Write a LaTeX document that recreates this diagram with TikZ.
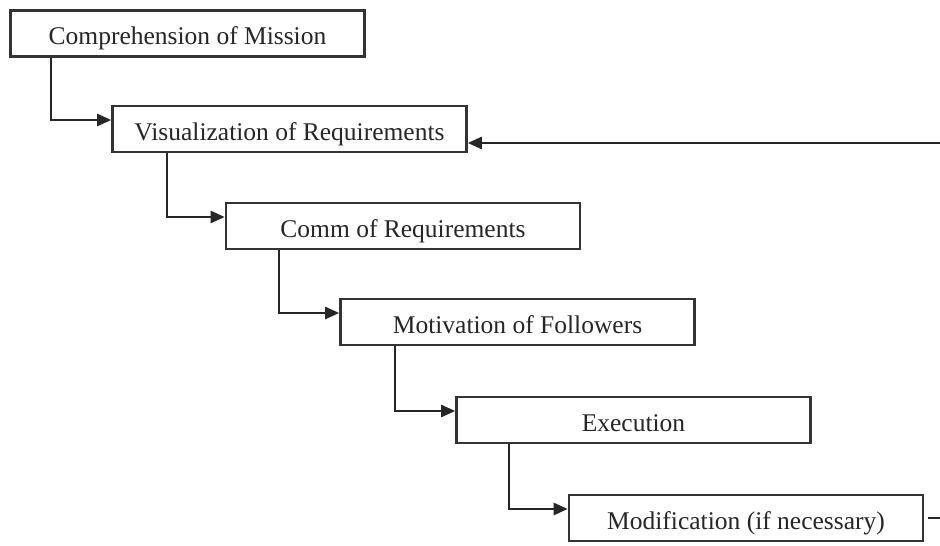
\documentclass[tikz,border=0pt]{standalone}
\usepackage{fontspec}
\setmainfont{Liberation Serif}
\usetikzlibrary{arrows.meta}
\begin{document}
\begin{tikzpicture}[x=1pt,y=-1pt,
  stagebox/.style={draw=black!80, line width=2.6pt, fill=white, minimum width=354pt, minimum height=46pt, inner sep=0pt,
    text height=22pt, text depth=0pt,
    font=\fontsize{25.5}{30}\selectfont, text=black!85},
  flowline/.style={draw=black!85, line width=2.4pt, -{Triangle[length=14pt,width=12pt]}}]
\useasboundingbox (0,0) rectangle (940,546);
\clip (0,0) rectangle (940,546);
\fill[white] (0,0) rectangle (940,546);
\node[stagebox] (c) at (187.5,33.5) {Comprehension of Mission};
\node[stagebox] (v) at (289.5,129) {Visualization of Requirements};
\node[stagebox] (r) at (403,226) {Comm of Requirements};
\node[stagebox] (f) at (517.5,322) {Motivation of Followers};
\node[stagebox] (e) at (633.5,420) {Execution};
\node[stagebox] (m) at (746,518) {Modification (if necessary)};
\draw[flowline] ([xshift=42pt]c.south west) |- ([yshift=9pt]v.west);
\draw[flowline] ([xshift=56pt]v.south west) |- ([yshift=9pt]r.west);
\draw[flowline] ([xshift=54pt]r.south west) |- ([yshift=9pt]f.west);
\draw[flowline] ([xshift=56pt]f.south west) |- ([yshift=9pt]e.west);
\draw[flowline] ([xshift=54pt]e.south west) |- ([yshift=9pt]m.west);
\draw[flowline] ([xshift=4pt]m.east) -- (952,518) |- ([yshift=-14pt]v.east);
\end{tikzpicture}
\end{document}
